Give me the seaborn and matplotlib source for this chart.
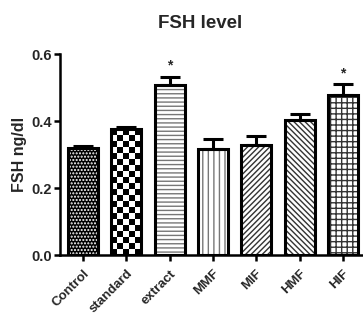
import matplotlib
matplotlib.use("Agg")
import matplotlib.pyplot as plt
from matplotlib.patches import Rectangle
import seaborn as sns
import pandas as pd
import numpy as np

categories = ["Control", "standard", "extract", "MMF", "MIF", "HMF", "HIF"]
means = [0.320, 0.375, 0.508, 0.316, 0.330, 0.402, 0.477]
errors = [0.007, 0.008, 0.025, 0.030, 0.026, 0.020, 0.033]
significant = [False, False, True, False, False, False, True]
hatches = [".....", None, "----", "|||", "//////", "\\\\\\\\\\\\", "+++"]
facecolors = ["black", "white", "white", "white", "white", "white", "white"]
hatchcolors = ["white", "black", "#777777", "#777777", "#333333", "#333333", "#333333"]
yticks = [0.0, 0.2, 0.4, 0.6]

sns.set_style("white")
plt.rcParams["font.family"] = ["Liberation Sans", "DejaVu Sans"]
plt.rcParams["font.weight"] = "bold"
plt.rcParams["hatch.linewidth"] = 1.0

df = pd.DataFrame({"group": categories, "value": means})

fig = plt.figure(figsize=(3.63, 3.2), dpi=100)
ax = fig.add_axes([0.165, 0.203, 0.835, 0.628])

sns.barplot(data=df, x="group", y="value", color="white", width=0.69,
            edgecolor="black", linewidth=0, ax=ax, errorbar=None)
ax.set_ylim(0, 0.6)
ax.set_xlim(-0.53, 6.46)

bars = list(ax.patches)
for patch, h, fc, hc in zip(bars, hatches, facecolors, hatchcolors):
    patch.set_facecolor(fc)
    patch.set_edgecolor(hc)
    patch.set_linewidth(0)
    if h:
        patch.set_hatch(h)
    bx, by, bw, bh = patch.get_x(), patch.get_y(), patch.get_width(), patch.get_height()
    if h is None:
        # checkerboard texture clipped to the bar
        p0 = ax.transData.transform((bx, by))
        p1 = ax.transData.transform((bx + bw, by + bh))
        ncol = max(1, int(round((p1[0] - p0[0]) / 6)))
        nrow = max(1, int(round((p1[1] - p0[1]) / 6)))
        board = (np.add.outer(np.arange(nrow), np.arange(ncol)) % 2).astype(float)
        im = ax.imshow(board, cmap="gray", extent=(bx, bx + bw, by, by + bh),
                       interpolation="nearest", aspect="auto", zorder=2)
        im.set_clip_path(patch)
    ax.add_patch(Rectangle((bx, by), bw, bh, fill=False, edgecolor="black",
                           linewidth=2.2, zorder=3))

x = np.arange(len(categories))
ax.errorbar(x, means, yerr=[np.zeros(len(errors)), errors], fmt="none",
            ecolor="black", elinewidth=2.2, capsize=7, capthick=2.2, zorder=1)
for xi, m, e, s in zip(x, means, errors, significant):
    if s:
        ax.text(xi, m + e + 0.012, "*", ha="center", va="bottom", fontsize=10,
                fontweight="bold")

ax.set_ylim(0, 0.6)
ax.set_xlim(-0.53, 6.46)
ax.set_aspect("auto")
ax.set_yticks(yticks)
ax.set_yticklabels([f"{t:.1f}" for t in yticks], fontsize=10.5, fontweight="bold")
ax.set_xticks(x)
ax.set_xticklabels(categories, rotation=45, ha="right", rotation_mode="anchor",
                   fontsize=9.5, fontweight="bold")
ax.set_xlabel("")
ax.set_ylabel("FSH ng/dl", fontsize=11.5, fontweight="bold", labelpad=3)
ax.set_title("FSH level", fontsize=13.5, fontweight="bold", pad=19, x=0.462)

sns.despine(ax=ax)
for sp in ["left", "bottom"]:
    ax.spines[sp].set_linewidth(1.8)
    ax.spines[sp].set_color("black")
ax.tick_params(axis="y", direction="out", length=4, width=1.8, color="black",
               left=True, pad=2)
ax.tick_params(axis="x", direction="out", length=4, width=1.8, color="black",
               bottom=True, pad=5)

fig.savefig("out.png", dpi=100)
